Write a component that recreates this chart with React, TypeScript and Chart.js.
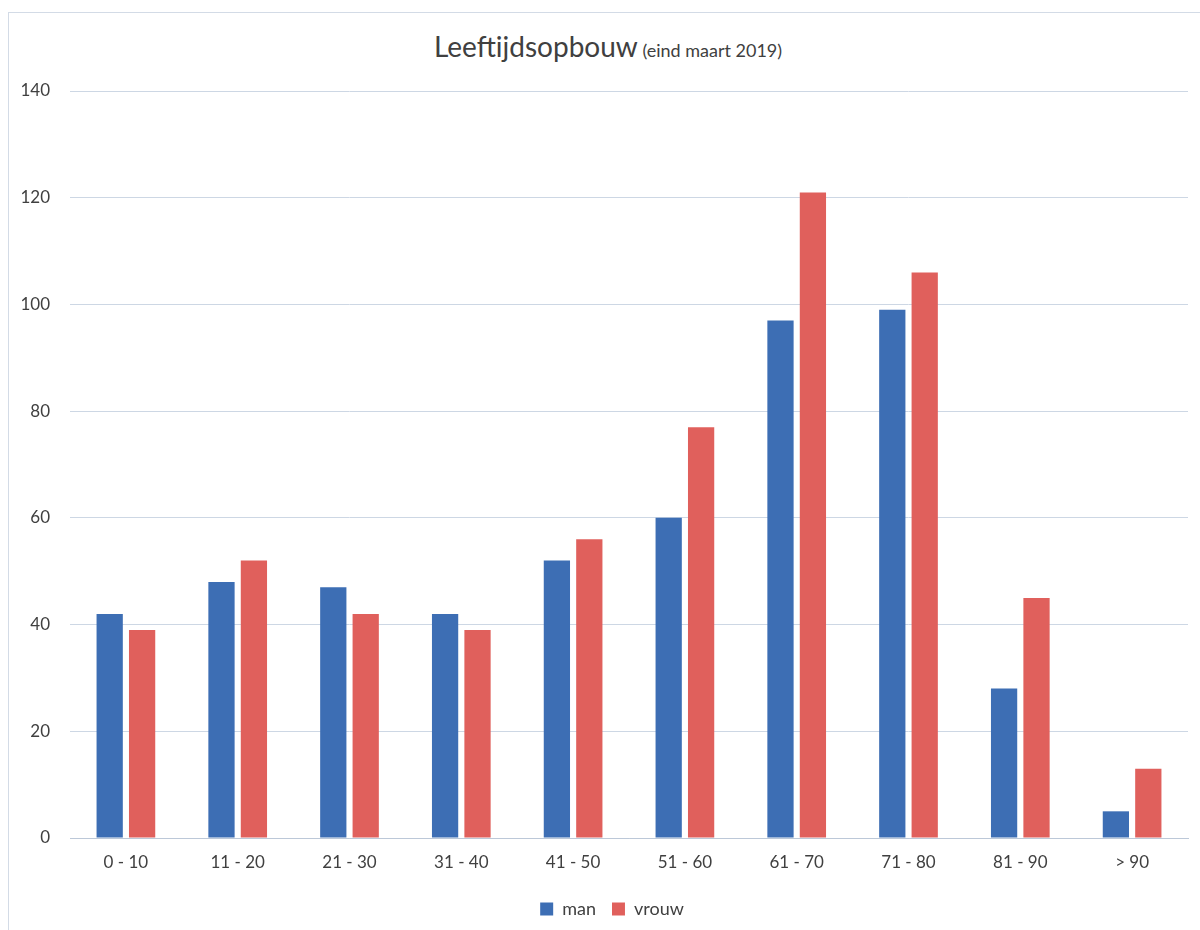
import React, { useEffect, useRef } from "react";
import { Chart, registerables } from "chart.js";

Chart.register(...registerables);

const categories = ["0 - 10", "11 - 20", "21 - 30", "31 - 40", "41 - 50", "51 - 60", "61 - 70", "71 - 80", "81 - 90", "> 90"];
const manValues = [42, 48, 47, 42, 52, 60, 97, 99, 28, 5];
const vrouwValues = [39, 52, 42, 39, 56, 77, 121, 106, 45, 13];
const yTicks = [0, 20, 40, 60, 80, 100, 120, 140];

const FONT = "Lato, 'Open Sans', sans-serif";
const TEXT = "#404040";

const legendShift = {
  id: "legendShift",
  afterLayout(chart: any) {
    if (chart.legend) {
      chart.legend.left += 18;
      chart.legend.right += 18;
    }
  },
};

export default function App() {
  const ref = useRef<HTMLCanvasElement | null>(null);

  useEffect(() => {
    if (!ref.current) return;
    const chart = new Chart(ref.current, {
      type: "bar",
      data: {
        labels: categories,
        datasets: [
          { label: "man", data: manValues, backgroundColor: "#3d6eb4", categoryPercentage: 0.58, barPercentage: 0.81 },
          { label: "vrouw", data: vrouwValues, backgroundColor: "#e0605c", categoryPercentage: 0.58, barPercentage: 0.81 },
        ],
      },
      options: {
        animation: false,
        responsive: false,
        devicePixelRatio: 1,
        layout: { padding: { top: 91, right: 12, left: 0, bottom: 2 } },
        plugins: {
          title: { display: false },
          tooltip: { enabled: false },
          legend: {
            position: "bottom",
            labels: {
              boxWidth: 13,
              boxHeight: 13,
              padding: 16,
              color: TEXT,
              font: { family: FONT, size: 18 },
            },
          },
        },
        scales: {
          x: {
            grid: { display: false, drawTicks: false },
            border: { display: true, color: "#bcc8d8", width: 1 },
            ticks: { color: TEXT, font: { family: FONT, size: 17 }, padding: 14 },
            afterFit: (s: any) => { s.height = 46; },
          },
          y: {
            min: 0,
            max: 140,
            afterBuildTicks: (s: any) => { s.ticks = yTicks.map((v) => ({ value: v })); },
            grid: { color: "#cdd7e4", drawTicks: false },
            border: { display: false },
            ticks: { color: TEXT, font: { family: FONT, size: 17 }, padding: 20 },
            afterFit: (s: any) => { s.width = 70; },
          },
        },
      },
      plugins: [legendShift],
    });
    return () => chart.destroy();
  }, []);

  return (
    <div style={{ position: "fixed", left: 0, top: 0, width: 1200, height: 930, background: "#fff", overflow: "hidden" }}>
      <div style={{ position: "absolute", left: 8, top: 12, width: 1300, height: 1000, borderLeft: "1px solid #d3dbe6", borderTop: "1px solid #d3dbe6" }} />
      <div
        style={{
          position: "absolute",
          left: 0,
          width: 1216,
          top: 29,
          textAlign: "center",
          fontFamily: FONT,
          color: TEXT,
          whiteSpace: "nowrap",
        }}
      >
        <span style={{ fontSize: 28 }}>Leeftijdsopbouw</span>
        <span style={{ fontSize: 18 }}> (eind maart 2019)</span>
      </div>
      <canvas ref={ref} width={1200} height={930} style={{ position: "absolute", left: 0, top: 0 }} />
    </div>
  );
}
